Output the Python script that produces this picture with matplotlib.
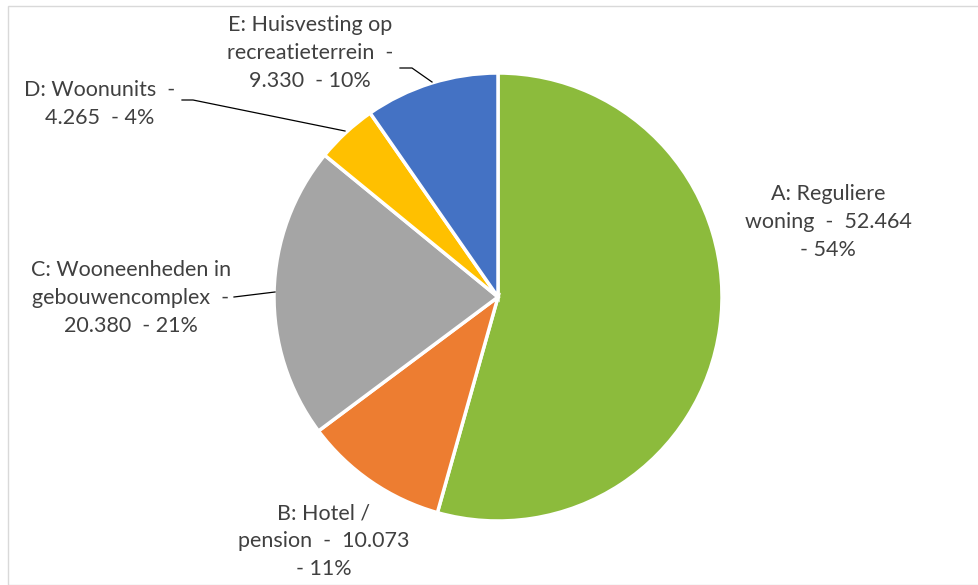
import matplotlib
matplotlib.use('Agg')
import matplotlib.pyplot as plt
from matplotlib.patches import Rectangle

# data
categories = ['A: Reguliere\nwoning  -  52.464\n- 54%',
              'B: Hotel /\npension  -  10.073\n- 11%',
              'C: Wooneenheden in\ngebouwencomplex  -\n20.380  - 21%',
              'D: Woonunits  -\n4.265  - 4%',
              'E: Huisvesting op\nrecreatieterrein  -\n9.330  - 10%']
values = [52464, 10073, 20380, 4265, 9330]
colors = ['#8CBB3C', '#ED7D31', '#A5A5A5', '#FFC000', '#4472C4']

# label centres in pixel coords (x, y from top)
label_pos = [(828, 222), (324, 541), (131, 298), (100, 104), (310, 53)]

W, H = 979, 585
plt.rcParams['font.family'] = ['Lato', 'DejaVu Sans']

fig = plt.figure(figsize=(W / 100, H / 100), dpi=100)
ax = fig.add_axes([0, 0, 1, 1])

# chart border
fig.patches.append(Rectangle((8 / W, 0), 1, 1 - 6 / H, transform=fig.transFigure,
                             fill=False, edgecolor='#D9D9D9', lw=1))

cx, cy, r = 498, H - 297, 224
ax.pie(values, colors=colors, startangle=90, counterclock=False,
       center=(cx, cy), radius=r, frame=True,
       wedgeprops=dict(edgecolor='white', linewidth=2.5))
ax.set_xlim(0, W)
ax.set_ylim(0, H)
ax.set_aspect('equal')
ax.axis('off')

for txt, (x, y) in zip(categories, label_pos):
    ax.text(x, H - y, txt, ha='center', va='center', fontsize=15.5,
            color='#404040', linespacing=1.48)

# leader lines
leaders = [
    [(400, 68), (412, 68), (432, 82)],
    [(182, 100), (193, 100), (345, 131)],
    [(234, 297), (275, 292)],
]
for pts in leaders:
    ax.plot([p[0] for p in pts], [H - p[1] for p in pts], color='black', lw=0.9)

fig.savefig('out.png', dpi=100)
